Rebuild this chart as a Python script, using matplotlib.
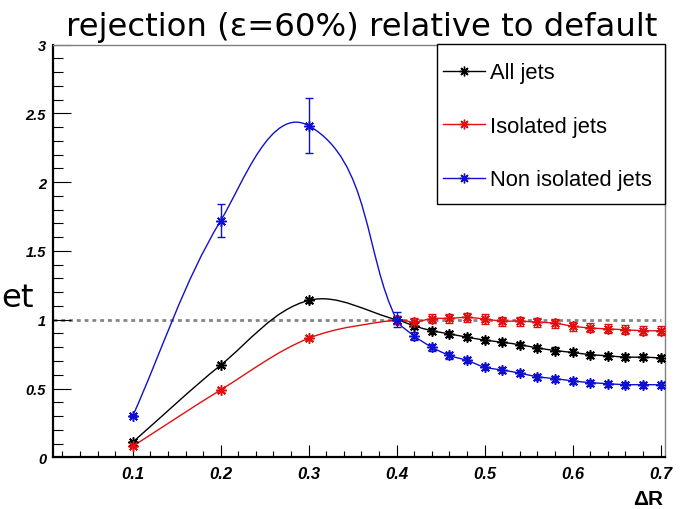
import numpy as np
import matplotlib
matplotlib.use('Agg')
import matplotlib.pyplot as plt
from matplotlib.path import Path
from matplotlib.patches import PathPatch, Rectangle
from matplotlib.lines import Line2D

plt.rcParams['font.family'] = ['Liberation Sans', 'DejaVu Sans']

# delta R values
dr = [0.1, 0.2, 0.3, 0.4, 0.42, 0.44, 0.46, 0.48, 0.50, 0.52, 0.54,
      0.56, 0.58, 0.60, 0.62, 0.64, 0.66, 0.68, 0.70]

all_jets = [0.11, 0.67, 1.14, 1.0, 0.955, 0.92, 0.897, 0.873, 0.852, 0.836, 0.818,
            0.795, 0.776, 0.762, 0.746, 0.738, 0.728, 0.728, 0.722]
all_err = [0.006, 0.015, 0.02, 0.03, 0.022, 0.022, 0.022, 0.022, 0.022, 0.022, 0.022,
           0.022, 0.022, 0.022, 0.022, 0.022, 0.022, 0.022, 0.022]

iso_jets = [0.08, 0.49, 0.865, 1.0, 0.983, 1.008, 1.01, 1.017, 1.005, 0.99, 0.99,
            0.982, 0.975, 0.953, 0.94, 0.933, 0.927, 0.92, 0.92]
iso_err = [0.006, 0.015, 0.015, 0.03, 0.03, 0.033, 0.033, 0.033, 0.033, 0.033, 0.033,
           0.033, 0.033, 0.033, 0.033, 0.033, 0.033, 0.033, 0.033]

noniso_jets = [0.30, 1.72, 2.41, 1.0, 0.882, 0.80, 0.74, 0.704, 0.655, 0.634, 0.612,
               0.585, 0.572, 0.555, 0.543, 0.535, 0.528, 0.528, 0.527]
noniso_err = [0.01, 0.12, 0.2, 0.055, 0.03, 0.025, 0.022, 0.022, 0.022, 0.022, 0.022,
              0.022, 0.022, 0.022, 0.022, 0.022, 0.022, 0.022, 0.022]

labels = ['All jets', 'Isolated jets', 'Non isolated jets']
colors = ['black', '#e01010', '#1010d0']

x_ticks = [0.1, 0.2, 0.3, 0.4, 0.5, 0.6, 0.7]
y_ticks = [0, 0.5, 1, 1.5, 2, 2.5, 3]
ref_x = [0.0094, 0.70]
ref_y = [1, 1]

STAR = (8, 2, 0)


def smooth_path(ax, x, y):
    # bezier curve through the points, built in display space (like ROOT "C")
    pts = ax.transData.transform(np.column_stack([x, y]))
    n = len(pts)
    verts = [pts[0]]
    codes = [Path.MOVETO]
    for i in range(n - 1):
        p0 = pts[i - 1] if i > 0 else pts[i]
        p1 = pts[i]
        p2 = pts[i + 1]
        p3 = pts[i + 2] if i + 2 < n else pts[i + 1]
        d = np.linalg.norm(p2 - p1)
        t1 = (p2 - p0) / np.linalg.norm(p2 - p0)
        t2 = (p3 - p1) / np.linalg.norm(p3 - p1)
        verts += [p1 + t1 * d / 3, p2 - t2 * d / 3, p2]
        codes += [Path.CURVE4] * 3
    verts = ax.transData.inverted().transform(np.array(verts))
    return Path(verts, codes)


def main():
    fig = plt.figure(figsize=(6.81, 5.10), dpi=100)
    W, H = 681.0, 510.0
    ax = fig.add_axes([53 / W, 1 - 458.3 / H, (665 - 53) / W, (458.3 - 45.5) / H])
    ax.set_xlim(0.0094, 0.705)
    ax.set_ylim(0, 3)

    ## frame
    for s in ['left', 'bottom']:
        ax.spines[s].set_linewidth(1.6)
        ax.spines[s].set_color('black')
    for s in ['top', 'right']:
        ax.spines[s].set_linewidth(1.0)
        ax.spines[s].set_color('#808080')

    ax.set_xticks(x_ticks, labels=['%.1f' % v for v in x_ticks],
                  fontweight='bold', fontstyle='italic', fontsize=12)
    ax.set_yticks(y_ticks, labels=['%g' % v for v in y_ticks],
                  fontweight='bold', fontstyle='italic', fontsize=10.5)
    ax.set_xticks(np.arange(0.02, 0.705, 0.02), minor=True)
    ax.set_yticks(np.arange(0, 3.01, 0.1), minor=True)
    ax.tick_params(axis='x', which='major', direction='in', length=8.6, width=0.8, pad=6)
    ax.tick_params(axis='x', which='minor', direction='in', length=4.3, width=0.8)
    ax.tick_params(axis='y', which='major', direction='in', length=13, width=0.8, pad=5)
    ax.tick_params(axis='y', which='minor', direction='in', length=7.5, width=0.8)

    ## reference line at 1
    ax.plot(ref_x, ref_y, color='#858585', lw=2.0, dashes=(1.4, 1.4), zorder=1)

    series = [(all_jets, all_err), (iso_jets, iso_err), (noniso_jets, noniso_err)]
    for (vals, errs), c in zip(series, colors):
        ax.add_patch(PathPatch(smooth_path(ax, dr, vals), fill=False,
                               edgecolor=c, lw=1.0, zorder=2))
        ax.errorbar(dr, vals, yerr=errs, fmt='none', ecolor=c, elinewidth=1.0,
                    capsize=3, capthick=1.0, zorder=3)
        ax.plot(dr, vals, ls='none', marker=STAR, ms=7.5, mew=1.1, color=c, zorder=4)

    ## legend box
    fig.add_artist(Rectangle((437 / W, 1 - 205 / H), 228 / W, 160 / H,
                             transform=fig.transFigure, facecolor='white',
                             edgecolor='black', lw=1.0, zorder=5))
    handles = [Line2D([], [], color=c, lw=1.0, marker=STAR, ms=7, mew=1.0) for c in colors]
    fig.legend(handles, labels, loc='upper left', bbox_to_anchor=(443 / W, 1 - 63.5 / H),
               bbox_transform=fig.transFigure, frameon=False, fontsize=15.8,
               borderpad=0, borderaxespad=0, handlelength=1.92, handletextpad=0.23,
               labelspacing=1.48, numpoints=1)

    fig.text(362 / W, 1 - 36 / H, 'rejection (\u03b5=60%) relative to default',
             family='DejaVu Sans', fontsize=23.3, ha='center', va='baseline')
    fig.text(1 / W, 1 - 307 / H, 'et', family='DejaVu Sans', fontsize=23.3,
             ha='left', va='baseline')
    fig.text(663 / W, 1 - 505 / H, '\u0394R', fontsize=15, fontweight='bold',
             ha='right', va='baseline')

    fig.savefig('out.png', dpi=100)


if __name__ == "__main__":
    main()
